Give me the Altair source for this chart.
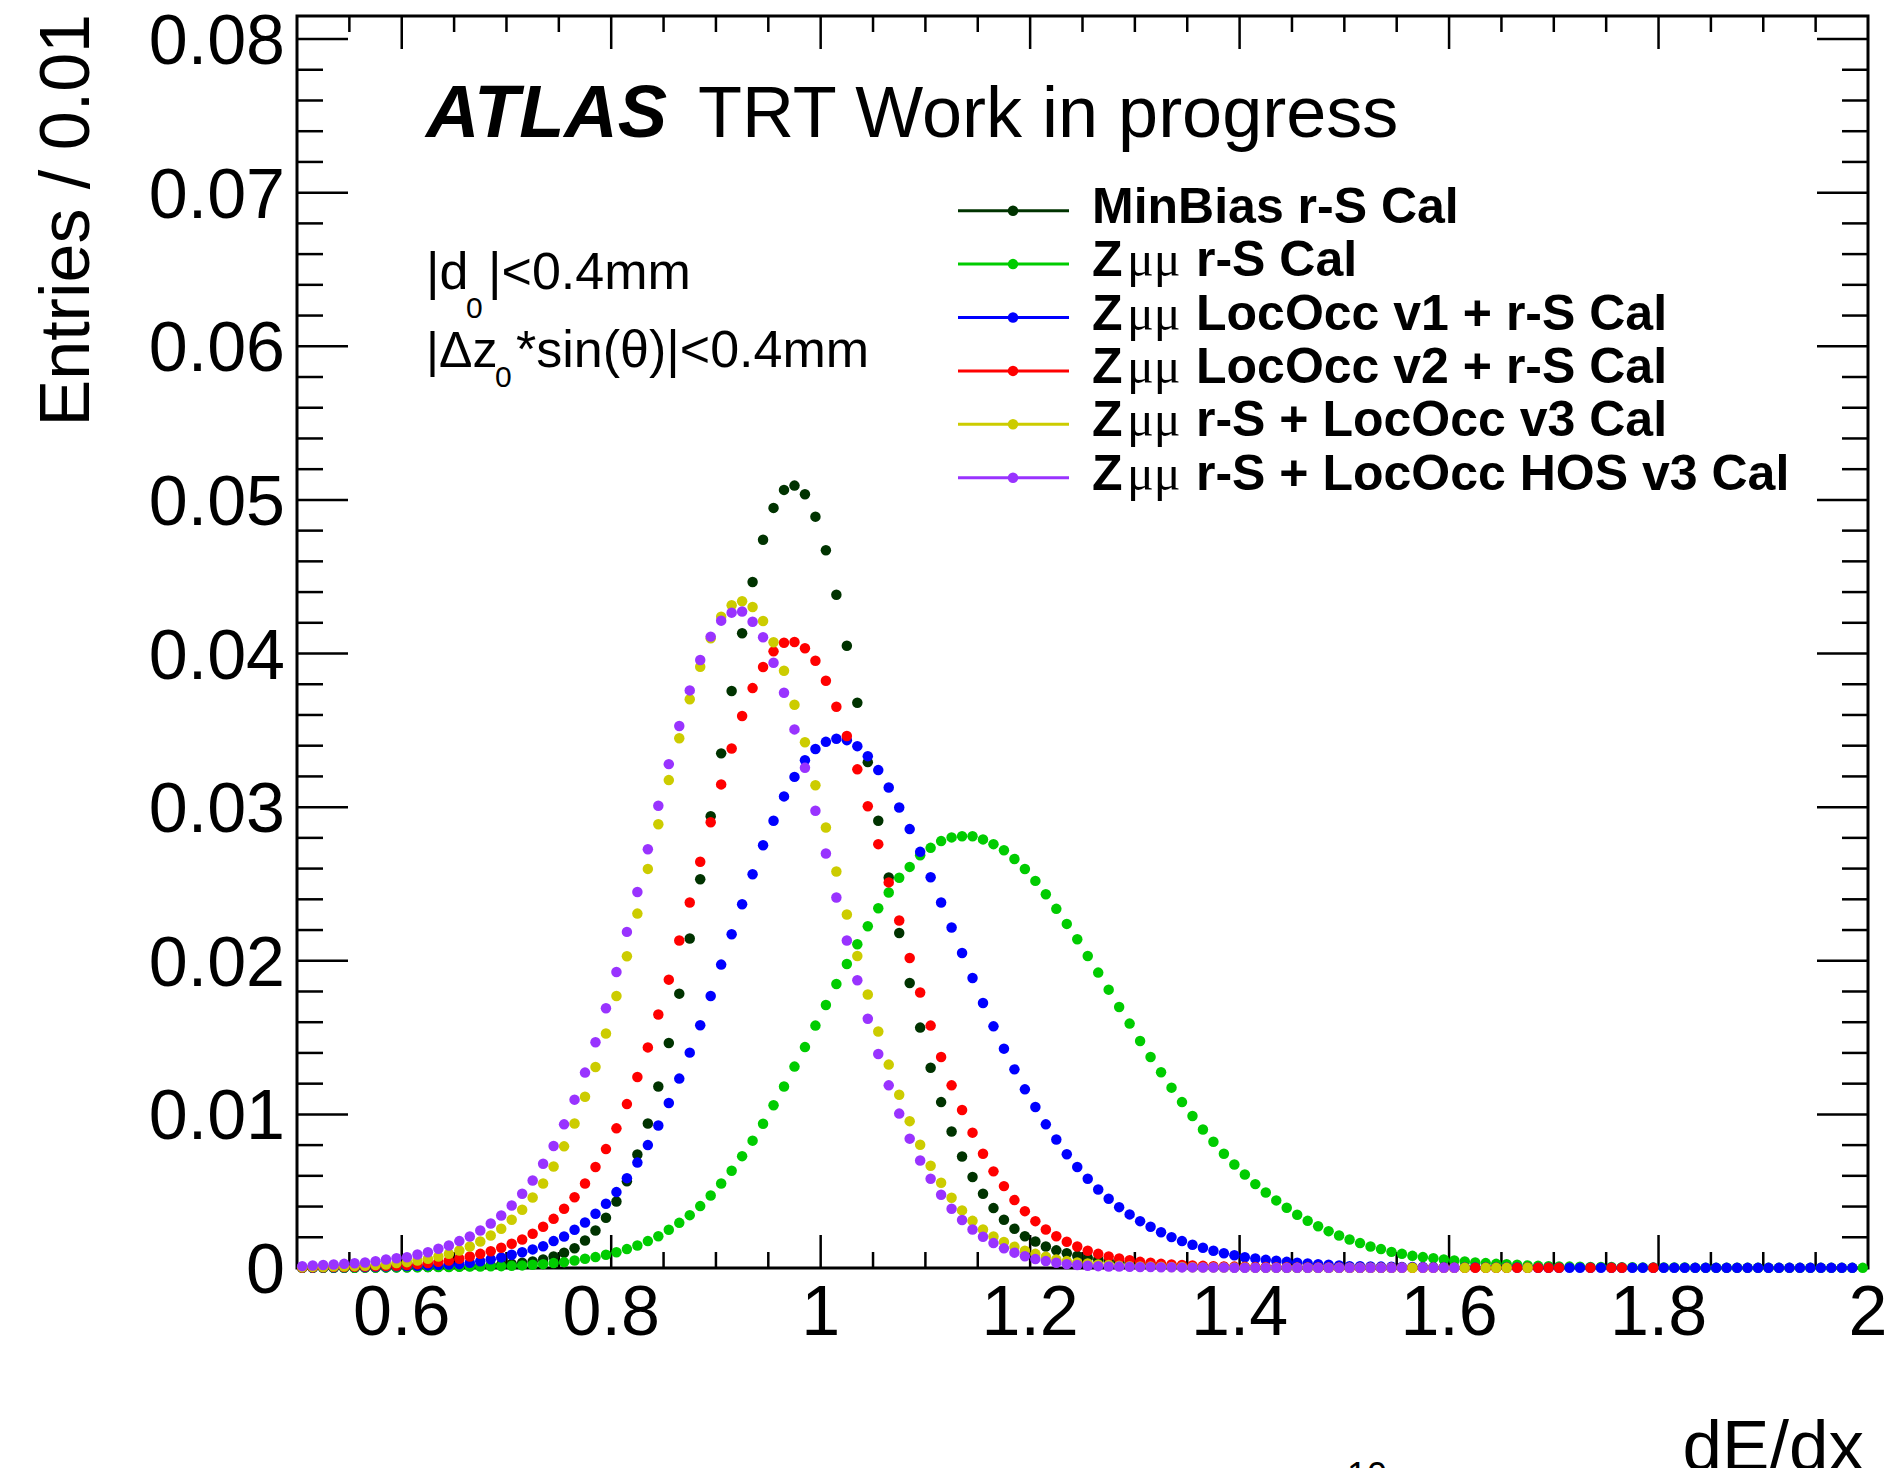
import altair as alt
import pandas as pd

# Histogram binning of dE/dx (bin width 0.01 between 0.5 and 2.0)
BIN_LO, BIN_W, N_BINS = 0.5, 0.01, 150
W, H = 1571, 1252  # plot frame in pixels

series_names = [
    "MinBias r-S Cal",
    "Zμμ r-S Cal",
    "Zμμ LocOcc v1 + r-S Cal",
    "Zμμ LocOcc v2 + r-S Cal",
    "Zμμ r-S + LocOcc v3 Cal",
    "Zμμ r-S + LocOcc HOS v3 Cal",
]
series_colors = ["#003300", "#00cc00", "#0000ff", "#ff0000", "#cccc00", "#9933ff"]

# Normalised entries per bin; None marks an empty bin (not drawn)
minbias_rs = [
    0.00001, 0.00001, 0.00001, 0.00002, 0.00002, 0.00002, 0.00003, 0.00003, 0.00004, 0.00005,
    0.00005, 0.00006, 0.00007, 0.00008, 0.00010, 0.00011, 0.00013, 0.00015, 0.00018, 0.00022,
    0.00027, 0.00034, 0.00043, 0.00055, 0.00075, 0.00099, 0.00129, 0.00179, 0.00244, 0.00327,
    0.00433, 0.00564, 0.00739, 0.00941, 0.01182, 0.01465, 0.01786, 0.02145, 0.02531, 0.02941,
    0.03350, 0.03756, 0.04132, 0.04466, 0.04741, 0.04948, 0.05065, 0.05093, 0.05037, 0.04891,
    0.04672, 0.04383, 0.04051, 0.03680, 0.03293, 0.02911, 0.02542, 0.02181, 0.01855, 0.01565,
    0.01304, 0.01080, 0.00889, 0.00726, 0.00592, 0.00483, 0.00390, 0.00314, 0.00255, 0.00207,
    0.00173, 0.00140, 0.00115, 0.00096, 0.00079, 0.00066, 0.00055, 0.00046, 0.00038, 0.00032,
    0.00027, 0.00022, 0.00018, 0.00015, 0.00012, 0.00010, 0.00008, 0.00007, 0.00006, 0.00005,
    0.00004, 0.00004, 0.00003, 0.00003, 0.00002, 0.00002, 0.00002, 0.00001, 0.00001, 0.00001,
    0.00001, 0.00001, 0.00001, 0.00001, 0.00001,
] + [None] * 45

zmumu_rs = [
    0.00001, 0.00001, 0.00001, 0.00002, 0.00002, 0.00002, 0.00003, 0.00003, 0.00004, 0.00004,
    0.00005, 0.00005, 0.00006, 0.00006, 0.00007, 0.00008, 0.00009, 0.00010, 0.00011, 0.00012,
    0.00014, 0.00017, 0.00021, 0.00025, 0.00032, 0.00038, 0.00049, 0.00060, 0.00071, 0.00086,
    0.00103, 0.00123, 0.00147, 0.00175, 0.00207, 0.00249, 0.00294, 0.00344, 0.00403, 0.00472,
    0.00550, 0.00633, 0.00728, 0.00829, 0.00939, 0.01059, 0.01182, 0.01311, 0.01438, 0.01578,
    0.01712, 0.01849, 0.01979, 0.02107, 0.02225, 0.02342, 0.02444, 0.02540, 0.02611, 0.02687,
    0.02735, 0.02779, 0.02803, 0.02811, 0.02811, 0.02790, 0.02759, 0.02719, 0.02662, 0.02597,
    0.02520, 0.02433, 0.02338, 0.02240, 0.02140, 0.02031, 0.01923, 0.01812, 0.01699, 0.01591,
    0.01478, 0.01373, 0.01274, 0.01174, 0.01080, 0.00989, 0.00902, 0.00822, 0.00744, 0.00674,
    0.00609, 0.00546, 0.00492, 0.00440, 0.00392, 0.00347, 0.00307, 0.00272, 0.00240, 0.00212,
    0.00186, 0.00162, 0.00140, 0.00123, 0.00105, 0.00092, 0.00079, 0.00071, 0.00064, 0.00055,
    0.00049, 0.00042, 0.00036, 0.00032, 0.00027, 0.00025, 0.00021, 0.00017, 0.00014, 0.00012,
    0.00010, 0.00009, 0.00008, 0.00007, 0.00006, 0.00006, 0.00005, 0.00005, 0.00004, 0.00004,
    0.00003, 0.00003, 0.00003, 0.00002, 0.00002, 0.00002, 0.00002, 0.00002, 0.00001, 0.00001,
    0.00001, 0.00001, 0.00001, 0.00001, 0.00001, 0.00001, 0.00001, 0.00001, 0.00001, 0.00001,
]

zmumu_lococc_v1 = [
    0.00003, 0.00003, 0.00004, 0.00004, 0.00005, 0.00006, 0.00007, 0.00008, 0.00010, 0.00011,
    0.00013, 0.00015, 0.00017, 0.00020, 0.00022, 0.00025, 0.00034, 0.00044, 0.00057, 0.00069,
    0.00086, 0.00103, 0.00121, 0.00142, 0.00175, 0.00205, 0.00249, 0.00296, 0.00353, 0.00418,
    0.00494, 0.00585, 0.00686, 0.00800, 0.00928, 0.01074, 0.01233, 0.01402, 0.01580, 0.01771,
    0.01975, 0.02173, 0.02368, 0.02563, 0.02752, 0.02911, 0.03070, 0.03197, 0.03306, 0.03378,
    0.03425, 0.03445, 0.03436, 0.03397, 0.03332, 0.03241, 0.03128, 0.02998, 0.02857, 0.02709,
    0.02544, 0.02379, 0.02216, 0.02051, 0.01888, 0.01725, 0.01573, 0.01428, 0.01293, 0.01163,
    0.01048, 0.00935, 0.00837, 0.00741, 0.00657, 0.00581, 0.00511, 0.00451, 0.00396, 0.00349,
    0.00305, 0.00268, 0.00233, 0.00201, 0.00175, 0.00151, 0.00132, 0.00112, 0.00096, 0.00083,
    0.00070, 0.00062, 0.00053, 0.00047, 0.00040, 0.00034, 0.00030, 0.00025, 0.00021, 0.00016,
    0.00012, 0.00011, 0.00010, 0.00009, 0.00008, 0.00007, 0.00006, 0.00006, 0.00005, 0.00005,
    0.00004, 0.00004, 0.00004, 0.00003, 0.00003, 0.00003, 0.00003, 0.00002, 0.00002, 0.00002,
    0.00002, 0.00002, 0.00002, 0.00002, 0.00002, 0.00002, 0.00001, 0.00001, 0.00001, 0.00001,
    0.00001, 0.00001, 0.00001, 0.00001, 0.00001, 0.00001, 0.00001, 0.00001, 0.00001, 0.00001,
    0.00001, 0.00001, 0.00001, 0.00001, 0.00001, 0.00001, 0.00001, 0.00001, 0.00001, None,
]

zmumu_lococc_v2 = [
    0.00003, 0.00004, 0.00005, 0.00006, 0.00007, 0.00008, 0.00010, 0.00011, 0.00013, 0.00015,
    0.00019, 0.00025, 0.00032, 0.00040, 0.00049, 0.00060, 0.00075, 0.00092, 0.00109, 0.00132,
    0.00158, 0.00186, 0.00223, 0.00268, 0.00320, 0.00386, 0.00461, 0.00550, 0.00657, 0.00774,
    0.00909, 0.01067, 0.01243, 0.01436, 0.01650, 0.01877, 0.02132, 0.02379, 0.02644, 0.02902,
    0.03148, 0.03382, 0.03593, 0.03775, 0.03912, 0.04014, 0.04070, 0.04075, 0.04034, 0.03953,
    0.03823, 0.03653, 0.03463, 0.03246, 0.03006, 0.02759, 0.02510, 0.02262, 0.02018, 0.01793,
    0.01578, 0.01373, 0.01189, 0.01028, 0.00881, 0.00744, 0.00629, 0.00533, 0.00442, 0.00370,
    0.00305, 0.00251, 0.00207, 0.00171, 0.00140, 0.00112, 0.00092, 0.00075, 0.00062, 0.00051,
    0.00040, 0.00034, 0.00027, 0.00023, 0.00020, 0.00017, 0.00014, 0.00012, 0.00010, 0.00009,
    0.00008, 0.00007, 0.00006, 0.00005, 0.00005, 0.00004, 0.00004, 0.00003, 0.00003, 0.00003,
    0.00002, 0.00002, 0.00002, 0.00002, 0.00002, 0.00002, 0.00002, 0.00002, 0.00002, 0.00002,
    0.00002, 0.00002, 0.00002, 0.00002, 0.00002, 0.00001, 0.00001, 0.00001, 0.00001, 0.00001,
    0.00001, None, None, 0.00001, None, 0.00001, 0.00001, None, None, 0.00001,
] + [None] * 20

zmumu_lococc_v3 = [
    0.00005, 0.00006, 0.00007, 0.00009, 0.00010, 0.00012, 0.00015, 0.00019, 0.00023, 0.00032,
    0.00038, 0.00049, 0.00060, 0.00075, 0.00092, 0.00114, 0.00140, 0.00173, 0.00212, 0.00255,
    0.00314, 0.00379, 0.00459, 0.00550, 0.00661, 0.00792, 0.00941, 0.01115, 0.01308, 0.01527,
    0.01771, 0.02029, 0.02307, 0.02598, 0.02889, 0.03176, 0.03448, 0.03702, 0.03914, 0.04099,
    0.04240, 0.04314, 0.04340, 0.04303, 0.04212, 0.04073, 0.03888, 0.03666, 0.03422, 0.03143,
    0.02868, 0.02581, 0.02301, 0.02031, 0.01780, 0.01539, 0.01324, 0.01128, 0.00956, 0.00802,
    0.00666, 0.00555, 0.00457, 0.00375, 0.00307, 0.00251, 0.00205, 0.00170, 0.00138, 0.00112,
    0.00092, 0.00073, 0.00056, 0.00045, 0.00036, 0.00029, 0.00023, 0.00019, 0.00015, 0.00012,
    0.00010, 0.00009, 0.00008, 0.00007, 0.00006, 0.00005, 0.00004, 0.00004, 0.00003, 0.00003,
    0.00003, 0.00002, 0.00002, 0.00002, 0.00002, 0.00002, 0.00002, 0.00002, 0.00002, 0.00002,
    0.00002, 0.00002, 0.00002, 0.00002, 0.00002, 0.00002, 0.00002, 0.00001, 0.00001, 0.00001,
    0.00001, 0.00001, None, 0.00001, 0.00001, 0.00001, None, 0.00001, None, None,
] + [None] * 30

zmumu_lococc_hos_v3 = [
    0.00012, 0.00016, 0.00019, 0.00023, 0.00027, 0.00031, 0.00036, 0.00044, 0.00055, 0.00064,
    0.00070, 0.00088, 0.00103, 0.00125, 0.00147, 0.00175, 0.00205, 0.00244, 0.00290, 0.00342,
    0.00407, 0.00483, 0.00570, 0.00679, 0.00794, 0.00935, 0.01096, 0.01272, 0.01469, 0.01691,
    0.01927, 0.02188, 0.02448, 0.02726, 0.03009, 0.03280, 0.03528, 0.03760, 0.03958, 0.04110,
    0.04214, 0.04266, 0.04274, 0.04207, 0.04106, 0.03940, 0.03745, 0.03506, 0.03256, 0.02976,
    0.02698, 0.02412, 0.02132, 0.01873, 0.01623, 0.01393, 0.01189, 0.01005, 0.00842, 0.00700,
    0.00581, 0.00477, 0.00386, 0.00312, 0.00251, 0.00203, 0.00162, 0.00128, 0.00100, 0.00077,
    0.00058, 0.00045, 0.00034, 0.00025, 0.00019, 0.00015, 0.00012, 0.00010, 0.00009, 0.00008,
    0.00007, 0.00006, 0.00005, 0.00005, 0.00004, 0.00004, 0.00003, 0.00003, 0.00003, 0.00002,
    0.00002, 0.00002, 0.00002, 0.00002, 0.00002, 0.00002, 0.00002, 0.00002, 0.00002, 0.00002,
    0.00001, 0.00001, 0.00001, 0.00001, 0.00001, 0.00001, None, 0.00001, 0.00001, 0.00001,
    0.00001,
] + [None] * 39

all_series = [minbias_rs, zmumu_rs, zmumu_lococc_v1, zmumu_lococc_v2,
              zmumu_lococc_v3, zmumu_lococc_hos_v3]

# Axis ticks and their labels
y_major = [0.0, 0.01, 0.02, 0.03, 0.04, 0.05, 0.06, 0.07, 0.08]
y_major_labels = ["0", "0.01", "0.02", "0.03", "0.04", "0.05", "0.06", "0.07", "0.08"]
y_minor = [round(0.002 * j, 3) for j in range(1, 41) if j % 5]
x_major = [0.6, 0.8, 1.0, 1.2, 1.4, 1.6, 1.8, 2.0]
x_major_labels = ["0.6", "0.8", "1", "1.2", "1.4", "1.6", "1.8", "2"]
x_minor = [0.55, 0.65, 0.7, 0.75, 0.85, 0.9, 0.95, 1.05, 1.1, 1.15, 1.25, 1.3,
           1.35, 1.45, 1.5, 1.55, 1.65, 1.7, 1.75, 1.85, 1.9, 1.95]

# Legend text pieces: bold "Z", Greek "μμ", bold remainder
legend_prefix = ["", "Z", "Z", "Z", "Z", "Z"]
legend_greek = ["", "μμ", "μμ", "μμ", "μμ", "μμ"]
legend_rest = ["MinBias r-S Cal", "r-S Cal", "LocOcc v1 + r-S Cal",
               "LocOcc v2 + r-S Cal", "r-S + LocOcc v3 Cal", "r-S + LocOcc HOS v3 Cal"]

SANS = "Liberation Sans"
MARK_SIZE = 110

rows = []
for k, (name, vals) in enumerate(zip(series_names, all_series)):
    assert len(vals) == N_BINS, (name, len(vals))
    for i, v in enumerate(vals):
        if v is None:
            continue
        rows.append({"series": name, "k": k,
                     "dedx": round(BIN_LO + (i + 0.5) * BIN_W, 4), "entries": v})
hist = pd.DataFrame(rows)

xs = alt.Scale(domain=[0.5, 2.0], nice=False, zero=False)
ys = alt.Scale(domain=[0.0, 0.0815], nice=False, zero=False)
cs = alt.Scale(domain=series_names, range=series_colors)

X = lambda: alt.X("dedx:Q", scale=xs, axis=None)
Y = lambda: alt.Y("entries:Q", scale=ys, axis=None)

frame = alt.Chart(pd.DataFrame({"f": [0]})).mark_rect(
    filled=False, stroke="black", strokeWidth=3
).encode(x=alt.value(0), x2=alt.value(W), y=alt.value(0), y2=alt.value(H))


def y_ticks(vals, length):
    base = alt.Chart(pd.DataFrame({"entries": vals})).mark_rule(color="black", strokeWidth=2.5)
    return [base.encode(y=Y(), x=alt.value(0), x2=alt.value(length)),
            base.encode(y=Y(), x=alt.value(W - length), x2=alt.value(W))]


def x_ticks(vals, length):
    base = alt.Chart(pd.DataFrame({"dedx": vals})).mark_rule(color="black", strokeWidth=2.5)
    return [base.encode(x=X(), y=alt.value(H - length), y2=alt.value(H)),
            base.encode(x=X(), y=alt.value(0), y2=alt.value(length))]


ticks = (y_ticks(y_major, 51) + y_ticks(y_minor, 26)
         + x_ticks(x_major[:-1], 33) + x_ticks(x_minor, 16))

y_labels = alt.Chart(pd.DataFrame({"entries": y_major, "lab": y_major_labels})).mark_text(
    align="right", baseline="alphabetic", dy=25, font=SANS, fontSize=70, color="black"
).encode(y=Y(), x=alt.value(-12), text="lab:N")

x_labels = alt.Chart(pd.DataFrame({"dedx": x_major, "lab": x_major_labels})).mark_text(
    align="center", baseline="alphabetic", font=SANS, fontSize=70, color="black"
).encode(x=X(), y=alt.value(H + 67), text="lab:N")

points = alt.Chart(hist).mark_circle(size=MARK_SIZE, opacity=1).encode(
    x=X(), y=Y(),
    color=alt.Color("series:N", scale=cs, legend=None),
    order=alt.Order("k:Q"),
)


def note(text, x, y, size, weight="normal", style="normal", font=SANS,
         align="left", angle=0):
    return alt.Chart(pd.DataFrame({"t": [text]})).mark_text(
        align=align, baseline="alphabetic", font=font, fontSize=size,
        fontWeight=weight, fontStyle=style, angle=angle, color="black"
    ).encode(x=alt.value(x), y=alt.value(y), text="t:N")


notes = [
    note("ATLAS", 129, 121, 74, weight="bold", style="italic"),
    note("TRT Work in progress", 401, 121, 72),
    note("|d", 129, 273, 52),
    note("0", 169, 302, 30),
    note("|<0.4mm", 191, 273, 52),
    note("|Δz", 129, 351, 50),
    note("0", 198, 371, 30),
    note("*sin(θ)|<0.4mm", 219, 351, 52),
    note("Entries / 0.01", -208, -2, 70, align="right", angle=270),
    note("dE/dx", 1567, 1454, 71, align="right"),
    note("10", 1050, 1472, 36),
]

# Hand-built legend in the upper right of the frame
leg = pd.DataFrame({"series": series_names, "row": list(range(len(series_names))),
                    "prefix": legend_prefix, "greek": legend_greek, "rest": legend_rest})
leg["ly"] = 194.7 + 53.4 * leg["row"]
leg["ty"] = leg["ly"] + 12
leg["tx"] = [795 if p == "" else 899 for p in legend_prefix]
leg_z = leg[leg["prefix"] != ""]

LY = lambda: alt.Y("ly:Q", scale=None, axis=None)
TY = lambda: alt.Y("ty:Q", scale=None, axis=None)
CL = lambda: alt.Color("series:N", scale=cs, legend=None)

legend_layers = [
    alt.Chart(leg).mark_rule(strokeWidth=3).encode(
        x=alt.value(661), x2=alt.value(772), y=LY(), color=CL()),
    alt.Chart(leg).mark_circle(size=MARK_SIZE, opacity=1).encode(
        x=alt.value(716), y=LY(), color=CL()),
    alt.Chart(leg).mark_text(align="left", baseline="alphabetic", font=SANS,
                             fontSize=50, fontWeight="bold", color="black").encode(
        x=alt.X("tx:Q", scale=None, axis=None), y=TY(), text="rest:N"),
    alt.Chart(leg_z).mark_text(align="left", baseline="alphabetic", font=SANS,
                               fontSize=50, fontWeight="bold", color="black").encode(
        x=alt.value(795), y=TY(), text="prefix:N"),
    alt.Chart(leg_z).mark_text(align="left", baseline="alphabetic", font="Liberation Serif",
                               fontSize=50, color="black").encode(
        x=alt.value(830), y=TY(), text="greek:N"),
]

chart = alt.layer(frame, *ticks, points, y_labels, x_labels, *notes, *legend_layers).properties(
    width=W, height=H,
    autosize=alt.AutoSizeParams(type="none"),
    padding={"left": 297, "top": 16, "right": 20, "bottom": 200},
    background="white",
).configure_view(strokeWidth=0)

chart.save("out.html", embed_options={"renderer": "svg", "actions": False})
